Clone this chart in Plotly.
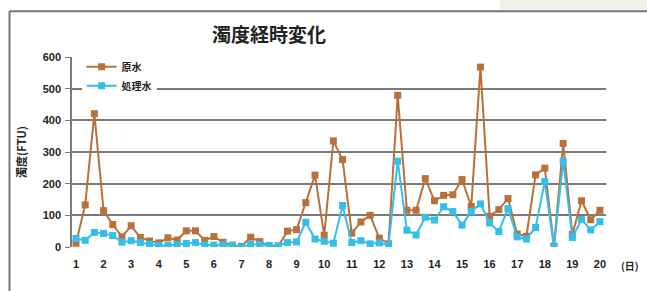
import plotly.graph_objects as go

days = list(range(1, 21))
day_labels = [str(d) for d in days]
# three samples per day, from day 1 to day 20
sample_x = [1 + i / 3 for i in range(58)]

raw_water = [12, 133, 421, 115, 71, 32, 67, 30, 19, 13,
             29, 22, 51, 51, 21, 33, 15, 6, 2, 31,
             17, 2, 2, 50, 55, 140, 227, 37, 335, 276,
             44, 79, 100, 28, 10, 479, 116, 116, 216, 146,
             163, 165, 213, 128, 568, 97, 118, 153, 41, 34,
             228, 249, 3, 327, 40, 146, 86, 116]

treated_water = [27, 21, 46, 43, 36, 15, 20, 14, 9, 5,
                 5, 8, 11, 14, 6, 6, 7, 5, 0, 8,
                 8, 5, 4, 14, 16, 78, 25, 18, 12, 131,
                 14, 20, 10, 13, 6, 271, 53, 38, 94, 85,
                 127, 112, 69, 112, 136, 76, 49, 121, 32, 25,
                 62, 207, 0, 271, 30, 87, 54, 80]

y_ticks = [0, 100, 200, 300, 400, 500, 600]

BROWN = "#B8713A"
CYAN = "#35BEE9"
GRID = "#7a7a7a"
FONT = "Liberation Sans, Noto Sans CJK JP, sans-serif"
JFONT = "Noto Sans CJK JP, sans-serif"

fig = go.Figure()
fig.add_trace(go.Scatter(
    x=sample_x, y=raw_water, name="原水", mode="lines+markers",
    line=dict(color=BROWN, width=2),
    marker=dict(symbol="square", size=7, color=BROWN),
))
fig.add_trace(go.Scatter(
    x=sample_x, y=treated_water, name="処理水", mode="lines+markers",
    line=dict(color=CYAN, width=2),
    marker=dict(symbol="square", size=7, color=CYAN),
))

fig.update_layout(
    width=647, height=291,
    margin=dict(l=72, r=41, t=57, b=44),
    paper_bgcolor="white", plot_bgcolor="white",
    title=dict(text="濁度経時変化", x=269 / 647, xanchor="center",
               y=1 - 35 / 291, yanchor="middle",
               font=dict(family=JFONT, size=19, color="#222", weight="bold")),
    showlegend=True,
    legend=dict(x=0.018, y=1.025, xanchor="left", yanchor="top",
                bgcolor="white", borderwidth=0,
                font=dict(family=JFONT, size=10, color="#222", weight="bold"),
                itemwidth=30, tracegroupgap=0),
    xaxis=dict(range=[0.855, 20.22], tickmode="array", tickvals=days,
               ticktext=day_labels, showgrid=False, zeroline=False,
               showline=False, ticks="", ticklen=0, ticklabelstandoff=9,
               tickfont=dict(family=FONT, size=11, color="#222", weight="bold")),
    yaxis=dict(range=[0, 600], tickmode="array", tickvals=y_ticks,
               showgrid=True, gridcolor=GRID, gridwidth=1.5,
               zeroline=False, showline=True, linecolor=GRID, linewidth=1.5,
               ticks="outside", ticklen=5, tickcolor=GRID, ticklabelstandoff=2,
               tickfont=dict(family=FONT, size=11, color="#222", weight="bold"),
               title=dict(text="濁度(FTU)", standoff=14,
                          font=dict(family=JFONT, size=11, color="#222", weight="bold"))),
    annotations=[dict(text="(日)", xref="paper", yref="paper",
                      x=(630 - 72) / 534, y=-(266 - 247.3) / 190,
                      xanchor="center", yanchor="middle", showarrow=False,
                      font=dict(family=JFONT, size=10, color="#222", weight="bold"))],
    shapes=[
        dict(type="rect", xref="paper", yref="paper", layer="below",
             x0=(500 - 72) / 534, x1=(647 - 72) / 534,
             y0=(247.3 - 10.5) / 190, y1=(247.3 + 0) / 190,
             fillcolor="#eef3e6", line=dict(width=0)),
        dict(type="line", xref="paper", yref="paper", layer="above",
             x0=(9.5 - 72) / 534, x1=(647 - 72) / 534,
             y0=(247.3 - 11.5) / 190, y1=(247.3 - 11.5) / 190,
             line=dict(color="#777", width=2)),
        dict(type="line", xref="paper", yref="paper", layer="above",
             x0=(9.5 - 72) / 534, x1=(9.5 - 72) / 534,
             y0=(247.3 - 11.5) / 190, y1=(247.3 - 295) / 190,
             line=dict(color="#777", width=2)),
    ],
)

fig.write_html("out.html",
               config={"displayModeBar": False},
               post_script="document.body.style.margin='0';document.body.style.overflow='hidden';")
